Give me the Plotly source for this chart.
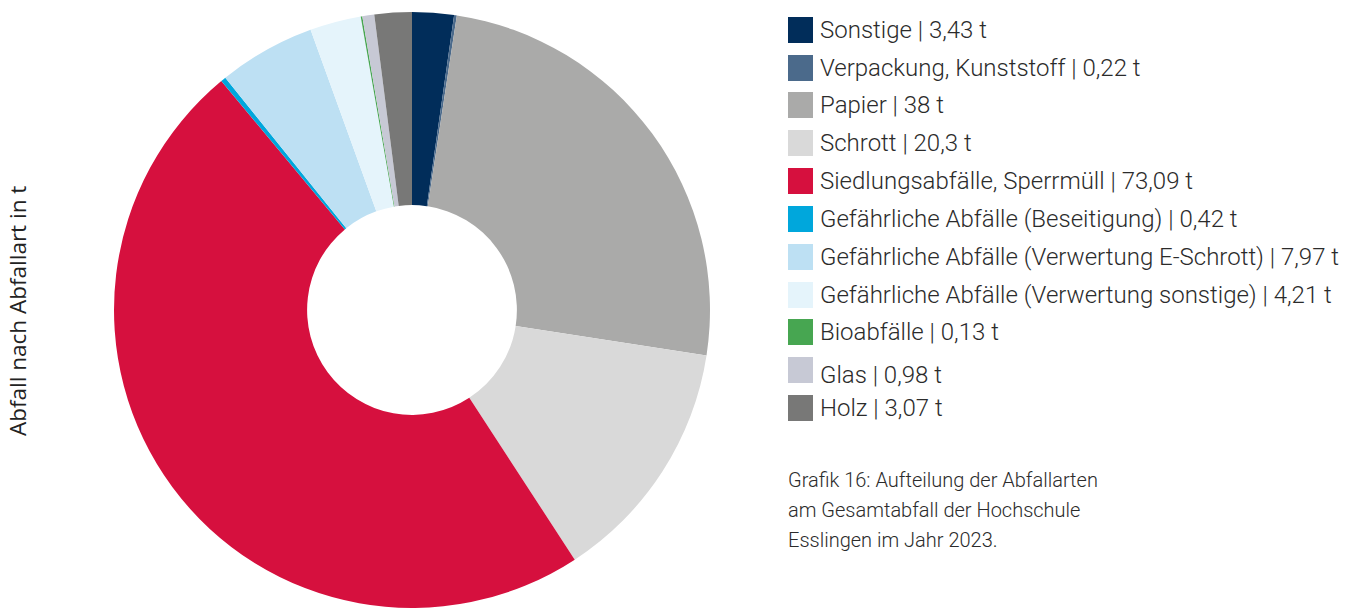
import plotly.graph_objects as go

labels = ["Sonstige", "Verpackung, Kunststoff", "Papier", "Schrott",
          "Siedlungsabfälle, Sperrmüll", "Gefährliche Abfälle (Beseitigung)",
          "Gefährliche Abfälle (Verwertung E-Schrott)",
          "Gefährliche Abfälle (Verwertung sonstige)", "Bioabfälle", "Glas", "Holz"]
values = [3.43, 0.22, 38, 20.3, 73.09, 0.42, 7.97, 4.21, 0.13, 0.98, 3.07]
value_text = ["3,43", "0,22", "38", "20,3", "73,09", "0,42", "7,97", "4,21", "0,13", "0,98", "3,07"]
colors = ["#012d5a", "#4b6a8b", "#aaaaa9", "#d9d9d9", "#d6103e", "#00a7dc",
          "#bde0f3", "#e5f4fb", "#47a651", "#c7c9d5", "#787877"]

W, H = 1366, 608
FONT = "Roboto"
TXT = "#2b2b2b"

fig = go.Figure()
fig.add_trace(go.Pie(
    labels=labels, values=values, hole=0.352, sort=False, direction="clockwise",
    rotation=0, textinfo="none", hoverinfo="label+value",
    marker=dict(colors=colors, line=dict(width=0)),
    domain=dict(x=[112 / W, 712 / W], y=[0, 1 - 12 / H]),
    showlegend=False,
))

# legend (drawn as shapes + annotations)
sq_y = [30, 68, 105, 143, 181, 219, 257, 295, 332, 370, 408]
txt_dy = [0, 0, 0, 0, 0, 0, 0, 0, 0, 5, 0]
shapes = []
annotations = []
for i, (lab, vt, col) in enumerate(zip(labels, value_text, colors)):
    cy = sq_y[i]
    shapes.append(dict(type="rect", xref="paper", yref="paper",
                       x0=788 / W, x1=813 / W, y0=1 - (cy + 13) / H, y1=1 - (cy - 13) / H,
                       fillcolor=col, line=dict(width=0)))
    annotations.append(dict(xref="paper", yref="paper", x=818 / W, y=1 - (cy + txt_dy[i]) / H,
                            xanchor="left", yanchor="middle", showarrow=False,
                            text=f"{lab} | {vt} t",
                            font=dict(family=FONT, size=24, color=TXT, weight=300)))

caption = ["Grafik 16: Aufteilung der Abfallarten",
           "am Gesamtabfall der Hochschule",
           "Esslingen im Jahr 2023."]
for j, line in enumerate(caption):
    annotations.append(dict(xref="paper", yref="paper", x=786 / W, y=1 - (480 + 30 * j) / H,
                            xanchor="left", yanchor="middle", showarrow=False, text=line,
                            font=dict(family=FONT, size=20, color=TXT, weight=300)))

annotations.append(dict(xref="paper", yref="paper", x=17 / W, y=1 - 311 / H,
                        xanchor="center", yanchor="middle", showarrow=False, textangle=-90,
                        text="Abfall nach Abfallart in t",
                        font=dict(family="Open Sans", size=22.5, color="#222222")))

fig.update_layout(
    width=W, height=H, margin=dict(l=0, r=0, t=0, b=0),
    paper_bgcolor="white", plot_bgcolor="white",
    shapes=shapes, annotations=annotations,
    font=dict(family=FONT, color=TXT),
)
fig.write_html("out.html", config={"displayModeBar": False},
               post_script="document.body.style.margin='0';")
